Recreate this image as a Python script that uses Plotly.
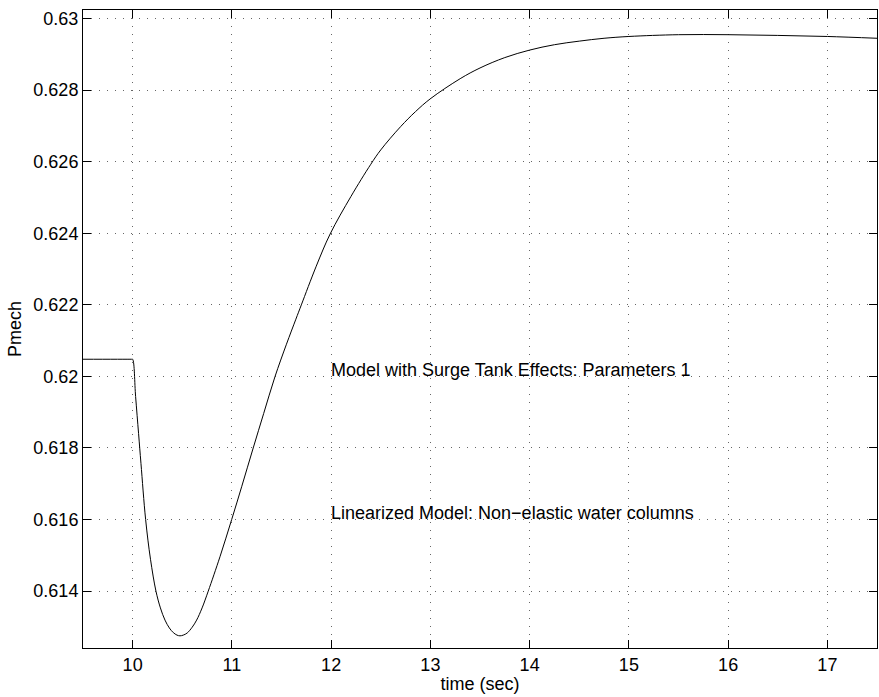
import plotly.graph_objects as go

# Data
time_sec = [9.5, 9.99, 10.0, 10.03, 10.06, 10.084, 10.131, 10.18, 10.235, 10.28, 10.326,
            10.37, 10.41, 10.447, 10.477, 10.51, 10.55, 10.6, 10.645, 10.70, 10.762,
            10.88, 10.998, 11.1, 11.215, 11.32, 11.434, 11.55, 11.645, 11.70, 11.85,
            11.99, 12.2, 12.40, 12.5, 12.7, 12.85, 13.0, 13.3, 13.5, 13.75,
            14.0, 14.25, 14.5, 14.75, 15.0, 15.5, 16.0, 16.5, 17.0, 17.5]
pmech = [0.62048, 0.62048, 0.62048, 0.61944, 0.61840, 0.61757, 0.61600, 0.61489, 0.61400, 0.61353, 0.61319,
         0.61297, 0.61284, 0.61277, 0.61275, 0.61277, 0.61283, 0.61299, 0.61319, 0.61353, 0.61400,
         0.61496, 0.61600, 0.61693, 0.61800, 0.61896, 0.61999, 0.62090, 0.62160, 0.62200, 0.62308,
         0.62398, 0.62503, 0.62593, 0.62633, 0.62698, 0.62740, 0.62776, 0.62832, 0.62862, 0.62891,
         0.62912, 0.62927, 0.62937, 0.62945, 0.62950, 0.62955, 0.62955, 0.62953, 0.62950, 0.62945]

x_ticks = [10, 11, 12, 13, 14, 15, 16, 17]
y_ticks = [0.614, 0.616, 0.618, 0.62, 0.622, 0.624, 0.626, 0.628, 0.63]
y_tick_labels = ["0.614", "0.616", "0.618", "0.62", "0.622", "0.624", "0.626", "0.628", "0.63"]

notes_x = [11.975, 11.975]
notes_y = [0.62017, 0.61619]
notes_text = ["Model with Surge Tank Effects: Parameters 1",
              "Linearized Model: Non\u2212elastic water columns"]

FONT = "Liberation Sans, Arial, Helvetica, sans-serif"
FS = 18

fig = go.Figure()
fig.add_trace(go.Scatter(x=time_sec, y=pmech, mode="lines",
                         line=dict(color="black", width=1, shape="spline", smoothing=1.0),
                         showlegend=False, hoverinfo="skip"))

for nx, ny, nt in zip(notes_x, notes_y, notes_text):
    fig.add_annotation(x=nx, y=ny, text=nt, showarrow=False, xanchor="left",
                       yanchor="middle", font=dict(family=FONT, size=FS, color="black"))

axis_common = dict(showline=True, linecolor="black", linewidth=1, mirror="ticks",
                   ticks="inside", ticklen=8, tickcolor="black", tickwidth=1,
                   showgrid=True, gridcolor="#666666", gridwidth=1, griddash="1px,7px",
                   zeroline=False, tickfont=dict(family=FONT, size=FS, color="black"))

fig.update_xaxes(range=[9.5, 17.5], tickvals=x_ticks, ticktext=[str(v) for v in x_ticks],
                 title=dict(text="time (sec)", font=dict(family=FONT, size=FS, color="black"),
                            standoff=3),
                 **axis_common)
fig.update_yaxes(range=[0.61241, 0.63024], tickvals=y_ticks, ticktext=y_tick_labels,
                 title=dict(text="Pmech", font=dict(family=FONT, size=FS, color="black"),
                            standoff=7),
                 **axis_common)

fig.update_layout(width=879, height=697, margin=dict(l=83, r=2, t=10, b=49),
                  paper_bgcolor="white", plot_bgcolor="white",
                  font=dict(family=FONT, size=FS, color="black"))

fig.write_html("out.html")
